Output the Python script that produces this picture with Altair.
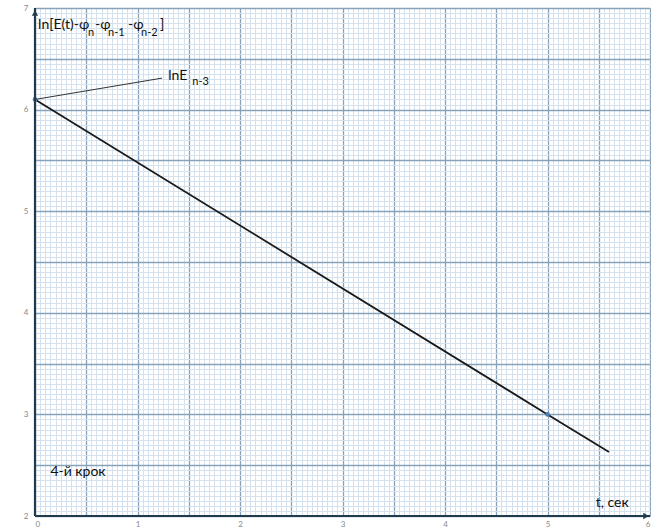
import altair as alt
import numpy as np
import pandas as pd

# Straight-line fit of ln[E(t) - φn - φn-1 - φn-2] against time
t_line = [0.0, 5.0, 5.6]
ln_line = [6.1, 3.0, 2.63]

# Reference points marked on the line
t_pts = [0.0, 5.0]
ln_pts = [6.1, 3.0]

# Leader from the intercept to the lnE(n-3) label
leader_t = [0.0, 1.24]
leader_ln = [6.1, 6.31]

# Axis extents and gridline positions (graph paper)
t_min, t_max = 0.0, 6.0
ln_min, ln_max = 2.0, 7.0
x_major = [round(v, 2) for v in np.arange(0, 6.001, 0.5)]
y_major = [round(v, 2) for v in np.arange(2, 7.001, 0.5)]
x_minor = [round(v, 2) for v in np.arange(0, 6.001, 0.05)]
y_minor = [round(v, 2) for v in np.arange(2, 7.001, 0.05)]

FONT = "Lato"
MAJOR = "#86a3bb"
MINOR = "#d5e1ec"
AXIS = "#1f3b4d"

xs = alt.Scale(domain=[t_min, t_max], nice=False, zero=False)
ys = alt.Scale(domain=[ln_min, ln_max], nice=False, zero=False)

line_df = pd.DataFrame({"t": t_line, "ln": ln_line})
pts_df = pd.DataFrame({"t": t_pts, "ln": ln_pts})
lead_df = pd.DataFrame({"t": [leader_t[0]], "t2": [leader_t[1]],
                        "ln": [leader_ln[0]], "ln2": [leader_ln[1]]})

int_only = "datum.value % 1 == 0 ? format(datum.value, 'd') : ''"

# Fine grid carried on the top/right axes
minor_layer = alt.Chart(line_df).mark_line(
    color="#1a1a1a", strokeWidth=1.8
).encode(
    x=alt.X("t:Q", scale=xs, axis=alt.Axis(
        orient="top", values=x_minor, grid=True, gridColor=MINOR, gridWidth=1,
        labels=False, ticks=False, domain=False, title=None)),
    y=alt.Y("ln:Q", scale=ys, axis=alt.Axis(
        orient="right", values=y_minor, grid=True, gridColor=MINOR, gridWidth=1,
        labels=False, ticks=False, domain=False, title=None)),
)

# Coarse grid plus the labelled axes
points = alt.Chart(pts_df).mark_circle(color="#4a7ebb", size=22, opacity=1).encode(
    x=alt.X("t:Q", scale=xs, axis=alt.Axis(
        orient="bottom", values=x_major, grid=True, gridColor=MAJOR, gridWidth=1.3,
        labelExpr=int_only, labelFontSize=8, labelColor="#888888", labelFont=FONT,
        labelPadding=4, ticks=False, domain=False,
        title=None, labelOverlap=False)),
    y=alt.Y("ln:Q", scale=ys, axis=alt.Axis(
        orient="left", values=y_major, grid=True, gridColor=MAJOR, gridWidth=1.3,
        labelExpr=int_only, labelFontSize=8, labelColor="#888888", labelFont=FONT,
        labelPadding=7, ticks=False, domain=False,
        title=None, labelOverlap=False)),
)

leader = alt.Chart(lead_df).mark_rule(color="#333333", strokeWidth=1).encode(
    x=alt.X("t:Q", axis=None), x2="t2:Q",
    y=alt.Y("ln:Q", axis=None), y2="ln2:Q",
)

# Axis lines drawn over the graph paper
x_axis_line = alt.Chart(pd.DataFrame({"t": [t_min], "t2": [t_max], "ln": [ln_min]})).mark_rule(
    color=AXIS, strokeWidth=2.2
).encode(x=alt.X("t:Q", axis=None), x2="t2:Q", y=alt.Y("ln:Q", axis=None))
y_axis_line = alt.Chart(pd.DataFrame({"t": [t_min], "ln": [ln_min], "ln2": [ln_max]})).mark_rule(
    color=AXIS, strokeWidth=2.2
).encode(x=alt.X("t:Q", axis=None), y=alt.Y("ln:Q", axis=None), y2="ln2:Q")

# Arrow heads at the axis ends
arrow_y = alt.Chart(pd.DataFrame({"t": [t_min], "ln": [ln_max]})).mark_point(
    shape="triangle-up", filled=True, color=AXIS, size=40, yOffset=5, opacity=1
).encode(x=alt.X("t:Q", axis=None), y=alt.Y("ln:Q", axis=None))
arrow_x = alt.Chart(pd.DataFrame({"t": [t_max], "ln": [ln_min]})).mark_point(
    shape="triangle-right", filled=True, color=AXIS, size=40, xOffset=-4, opacity=1
).encode(x=alt.X("t:Q", axis=None), y=alt.Y("ln:Q", axis=None))


def label(text, t, ln, size=13, dx=0, dy=0):
    return alt.Chart(pd.DataFrame({"t": [t], "ln": [ln], "s": [text]})).mark_text(
        align="left", baseline="alphabetic", font=FONT, fontSize=size,
        color="#111111", dx=dx, dy=dy
    ).encode(x=alt.X("t:Q", axis=None), y=alt.Y("ln:Q", axis=None), text="s:N")


# Vertical axis title with subscripts
yt, yl = 0.03, 6.793
title_parts = [
    label("ln[E(t)-φ", yt, yl, 14, 0, 0),
    label("n", yt, yl, 11, 50, 7),
    label("-φ", yt, yl, 14, 57, 0),
    label("n-1", yt, yl, 11, 70, 7),
    label("-φ", yt, yl, 14, 90, 0),
    label("n-2", yt, yl, 11, 103, 7),
    label("]", yt, yl, 14, 122, 0),
]

texts = [
    label("lnE", 1.30, 6.29, 14),
    label("n-3", 1.30, 6.29, 11, 24, 5),
    label("t, сек", 5.47, 2.09, 14),
    label("4-й крок", 0.15, 2.39, 14),
]

chart = alt.layer(
    minor_layer, points, leader, x_axis_line, y_axis_line, arrow_y, arrow_x,
    *title_parts, *texts
).resolve_axis(
    x="independent", y="independent"
).properties(
    width=615, height=508,
    autosize=alt.AutoSizeParams(type="none"),
    padding={"left": 35, "top": 8, "right": 1, "bottom": 16},
).configure_view(stroke=None).configure(background="white")

chart.save("out.html", embed_options={"renderer": "svg", "actions": False})
